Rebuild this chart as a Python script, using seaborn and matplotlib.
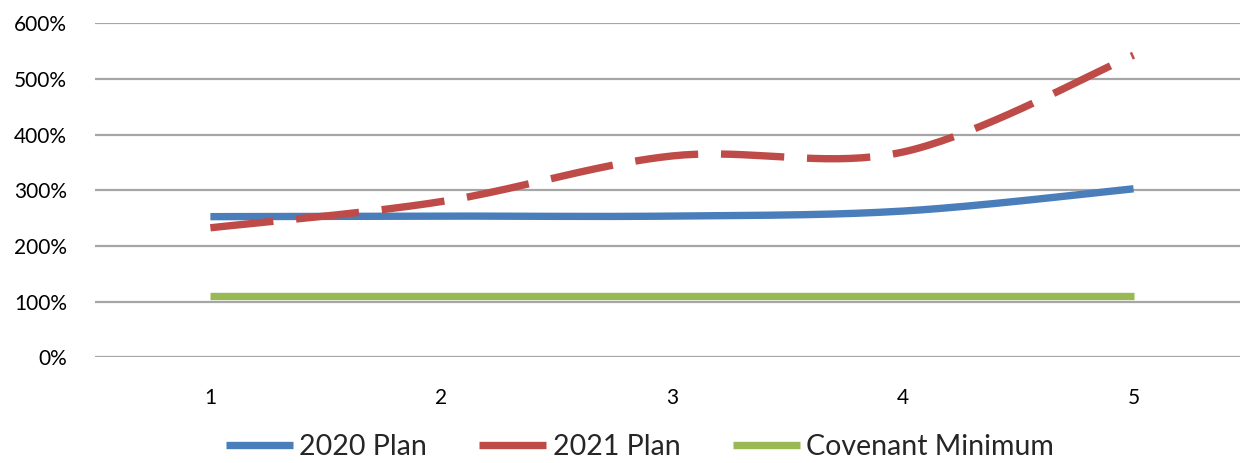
import numpy as np
import pandas as pd
import matplotlib
matplotlib.use("Agg")
import matplotlib.pyplot as plt
import seaborn as sns
from matplotlib.lines import Line2D

# Coverage ratio by plan year (percent)
periods = [1, 2, 3, 4, 5]
plan_2020 = [253, 254, 254, 263, 303]
plan_2021 = [233, 280, 362, 369, 543]
covenant_min = [110, 110, 110, 110, 110]
y_ticks = [0, 100, 200, 300, 400, 500, 600]

series_names = ["2020 Plan", "2021 Plan", "Covenant Minimum"]
colors = ["#4A7EBB", "#BE4B48", "#98B954"]


def smooth_curve(xs, ys, steps=40):
    """Catmull-Rom style Bezier smoothing through every point."""
    xs = np.asarray(xs, float)
    ys = np.asarray(ys, float)
    pts = np.column_stack([xs, ys])
    ext = np.vstack([pts[0], pts, pts[-1]])
    out = []
    t = np.linspace(0, 1, steps)[:, None]
    for i in range(len(pts) - 1):
        p0, p1, p2, p3 = ext[i], ext[i + 1], ext[i + 2], ext[i + 3]
        c1 = p1 + (p2 - p0) / 6.0
        c2 = p2 - (p3 - p1) / 6.0
        seg = ((1 - t) ** 3) * p1 + 3 * ((1 - t) ** 2) * t * c1 \
            + 3 * (1 - t) * t ** 2 * c2 + t ** 3 * p2
        out.append(seg if i == 0 else seg[1:])
    arr = np.vstack(out)
    return arr[:, 0], arr[:, 1]


sns.set_theme(style="white")
plt.rcParams["font.family"] = ["Lato", "DejaVu Sans"]

fig = plt.figure(figsize=(12.4, 4.63), dpi=100)
ax = fig.add_axes([0.0766, 0.2279, 0.9306, 0.7214])

for y in y_ticks:
    ax.axhline(y, color="#A6A6A6", lw=1.6, zorder=0)

lw = 5.3
frames = []
for name, vals in zip(series_names, [plan_2020, plan_2021, covenant_min]):
    sx, sy = smooth_curve(periods, vals)
    frames.append(pd.DataFrame({"period": sx, "value": sy, "series": name}))
df = pd.concat(frames, ignore_index=True)

sns.lineplot(data=df[df.series == "Covenant Minimum"], x="period", y="value",
             color=colors[2], lw=lw, sort=False, ax=ax, legend=False,
             solid_capstyle="butt", zorder=3)
sns.lineplot(data=df[df.series == "2020 Plan"], x="period", y="value",
             color=colors[0], lw=lw, sort=False, ax=ax, legend=False,
             solid_capstyle="butt", zorder=4)
sns.lineplot(data=df[df.series == "2021 Plan"], x="period", y="value",
             color=colors[1], lw=lw, sort=False, ax=ax, legend=False,
             dashes=False, zorder=5)
ax.lines[-1].set_dashes((8.6, 3.1))
ax.lines[-1].set_dash_capstyle("butt")

ax.set_xlim(0.5, 5.5)
ax.set_ylim(0, 600)
ax.set_xticks(periods)
ax.set_xticklabels([str(p) for p in periods])
ax.set_yticks(y_ticks)
ax.set_yticklabels([f"{v}%" for v in y_ticks])
ax.set_xlabel("")
ax.set_ylabel("")
for s in ax.spines.values():
    s.set_visible(False)
ax.tick_params(axis="x", length=0, pad=22, labelsize=15, colors="black")
ax.tick_params(axis="y", length=0, pad=20, labelsize=15, colors="black")

handles = [Line2D([0], [0], color=c, lw=lw, solid_capstyle="butt") for c in colors]
fig.legend(handles, series_names, loc="center", bbox_to_anchor=(0.516, 0.034),
           ncol=3, frameon=False, fontsize=20.5, handlelength=2.35,
           handletextpad=0.22, columnspacing=1.85, borderaxespad=0)

fig.savefig("out.png", dpi=100)
